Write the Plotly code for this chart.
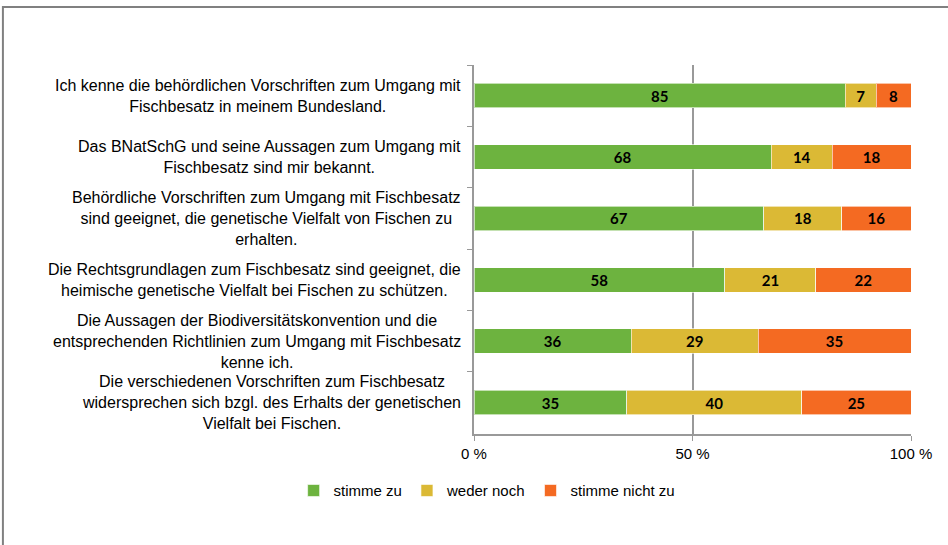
import plotly.graph_objects as go

# Statements (top to bottom)
statements = [
    'Ich kenne die behördlichen Vorschriften zum Umgang mit<br>Fischbesatz in meinem Bundesland.',
    'Das BNatSchG und seine Aussagen zum Umgang mit<br>Fischbesatz sind mir bekannt.',
    'Behördliche Vorschriften zum Umgang mit Fischbesatz<br>sind geeignet, die genetische Vielfalt von Fischen zu<br>erhalten.',
    'Die Rechtsgrundlagen zum Fischbesatz sind geeignet, die<br>heimische genetische Vielfalt bei Fischen zu schützen.',
    'Die Aussagen der Biodiversitätskonvention und die<br>entsprechenden Richtlinien zum Umgang mit Fischbesatz<br>kenne ich.',
    'Die verschiedenen Vorschriften zum Fischbesatz<br>widersprechen sich bzgl. des Erhalts der genetischen<br>Vielfalt bei Fischen.',
]

stimme_zu = [85, 68, 67, 58, 36, 35]
weder_noch = [7, 14, 18, 21, 29, 40]
stimme_nicht_zu = [8, 18, 16, 22, 35, 25]

x_ticks = [0, 50, 100]
x_ticktext = ['0 %', '50 %', '100 %']

series = [
    ('stimme zu', stimme_zu, '#6db33f'),
    ('weder noch', weder_noch, '#dbb935'),
    ('stimme nicht zu', stimme_nicht_zu, '#f46a22'),
]

fig = go.Figure()
for name, vals, col in series:
    fig.add_trace(go.Bar(
        y=statements, x=vals, name=name, orientation='h',
        marker=dict(color=col, line=dict(color='rgba(255,255,255,0.6)', width=1)),
        width=0.4,
        text=vals, texttemplate='<b>%{text}</b>', textposition='inside',
        insidetextanchor='middle',
        textfont=dict(family='Lato', size=15, color='black'),
    ))

# Category labels, centred multi-line text to the left of the axis
for s in statements:
    fig.add_annotation(
        x=-0.026, xref='paper', y=s, yref='y', text=s, showarrow=False,
        xanchor='right', yanchor='middle', align='center',
        font=dict(family='Liberation Sans', size=16, color='black'),
    )

# outer frame
fig.add_shape(type='rect', xref='paper', yref='paper',
              x0=-1.078, x1=1.2, y0=-0.5, y1=1.157,
              line=dict(color='#808080', width=2))

fig.update_layout(
    barmode='stack', barnorm='percent',
    width=948, height=545,
    margin=dict(l=474, r=37, t=65, b=111),
    paper_bgcolor='white', plot_bgcolor='white',
    font=dict(family='Liberation Sans', size=15, color='black'),
    showlegend=True,
    legend=dict(orientation='h', x=0.03, xanchor='center', y=-0.109, yanchor='top',
                font=dict(size=15), traceorder='normal', itemwidth=30),
    xaxis=dict(range=[0, 100], tickvals=x_ticks, ticktext=x_ticktext,
               showgrid=True, gridcolor='#999999', gridwidth=1.5,
               showline=True, linecolor='#999999', linewidth=2,
               ticks='outside', ticklen=5, tickcolor='#999999', zeroline=False,
               fixedrange=True),
    yaxis=dict(autorange='reversed', showticklabels=False,
               showline=True, linecolor='#999999', linewidth=2,
               ticks='outside', ticklen=5, tickcolor='#999999',
               tickson='boundaries', showgrid=False),
)

fig.write_html('out.html', config={'displayModeBar': False},
               post_script="document.body.style.margin='0px';")
